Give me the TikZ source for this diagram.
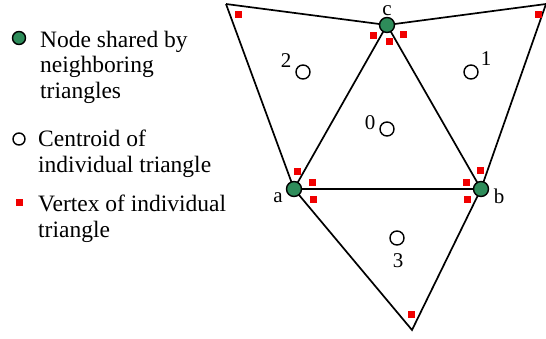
\documentclass[tikz,border=0pt]{standalone}
\usepackage{fontspec}
\setmainfont{Liberation Serif}
\definecolor{sharedgreen}{RGB}{46,140,90}
\definecolor{vred}{RGB}{240,0,0}
\begin{document}
\begin{tikzpicture}[x=1pt,y=-1pt,
  edge/.style={line width=1.7pt},
  shared/.style={circle,draw,line width=1.4pt,fill=sharedgreen,minimum size=15pt,inner sep=0pt},
  centroid/.style={circle,draw,line width=1.4pt,fill=white,minimum size=14pt,inner sep=0pt},
  vert/.style={rectangle,fill=vred,minimum size=7pt,inner sep=0pt},
  lbl/.style={font=\fontsize{21}{21}\selectfont,inner sep=0pt,anchor=base},
  legtext/.style={font=\fontsize{23.5}{25.5}\selectfont,inner sep=0pt,align=left,anchor=base west}]
\useasboundingbox (0,0) rectangle (546,338);
% geometry
\coordinate (tl) at (226,4);
\coordinate (tr) at (546,4);
\coordinate (bot) at (412,330);
\coordinate (pc) at (387,25);
\coordinate (pa) at (294,189);
\coordinate (pb) at (481,189);
% edges
\draw[edge] (tl) -- (pc) -- (tr);
\draw[edge] (tl) -- (pa);
\draw[edge] (tr) -- (pb);
\draw[edge] (pa) -- (pc) -- (pb) -- (pa);
\draw[edge] (pa) -- (bot) -- (pb);
% vertex squares
\node[vert] (v1) at (238,14) {};
\node[vert] (v2) at (373,35) {};
\node[vert] (v3) at (389,41) {};
\node[vert] (v4) at (403,34) {};
\node[vert] (v5) at (538,14) {};
\node[vert] (v6) at (297,171) {};
\node[vert] (v7) at (312,182) {};
\node[vert] (v8) at (313,199) {};
\node[vert] (v9) at (466,182) {};
\node[vert] (v10) at (480,170) {};
\node[vert] (v11) at (467,199) {};
\node[vert] (v12) at (411,314) {};
% shared nodes
\node[shared] (c) at (pc) {};
\node[shared] (a) at (pa) {};
\node[shared] (b) at (pb) {};
\node[lbl] (lc) at (387,15) {c};
\node[lbl] (la) at (278,202) {a};
\node[lbl] (lb) at (499,203) {b};
% centroids
\node[centroid] (g2) at (303,72) {};
\node[centroid] (g1) at (471,72) {};
\node[centroid] (g0) at (387,129) {};
\node[centroid] (g3) at (397,238) {};
\node[lbl] (t2) at (286,67) {2};
\node[lbl] (t1) at (486,65) {1};
\node[lbl] (t0) at (370,129) {0};
\node[lbl] (t3) at (398,267) {3};
% legend
\node[shared,minimum size=13pt] (k1) at (19,38) {};
\node[legtext] (k1t) at (40,98) {Node shared by\\neighboring\\triangles};
\node[centroid,minimum size=12pt] (k2) at (19,139) {};
\node[legtext] (k2t) at (38,172) {Centroid of\\individual triangle};
\node[vert] (k3) at (19.5,202.5) {};
\node[legtext] (k3t) at (38,237) {Vertex of individual\\triangle};
\end{tikzpicture}
\end{document}
